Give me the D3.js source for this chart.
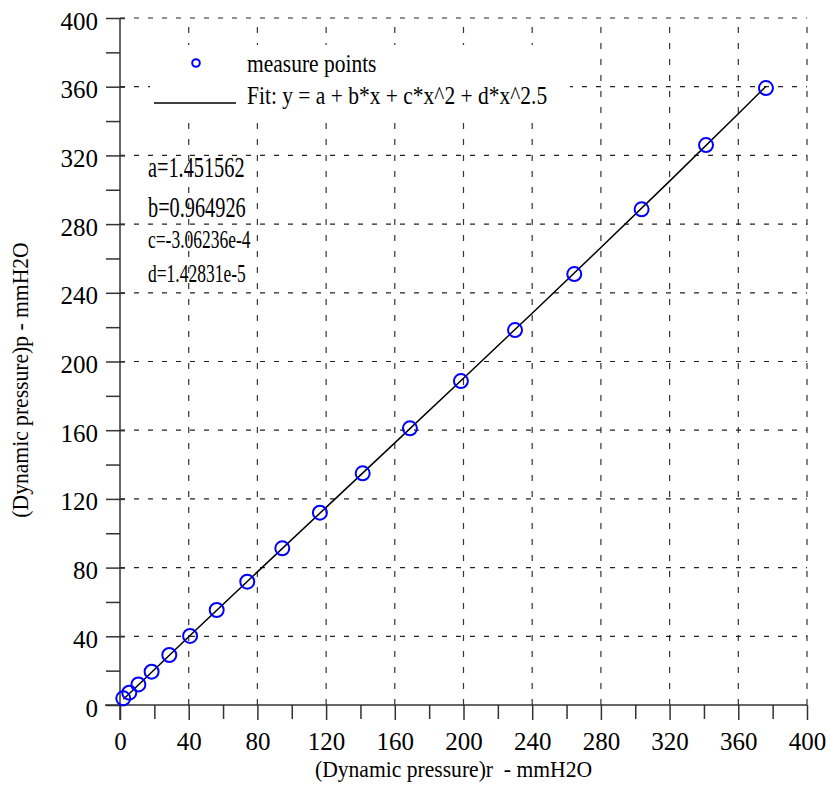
<!DOCTYPE html>
<html>
<head>
<meta charset="utf-8">
<script src="https://cdn.jsdelivr.net/npm/d3@7"></script>
<style>
  body { margin: 0; background: #fff; }
  svg text { font-family: "Liberation Serif", "DejaVu Serif", serif; fill: #000; }
</style>
</head>
<body>
<div id="chart"></div>
<script>
var rValues = [1.9, 5.4, 10.7, 18.4, 28.7, 40.8, 56.3, 74.1, 94.5, 116.4, 141.3, 168.8, 198.5, 230.0, 264.5, 303.7, 341.2, 376.1];
var pValues = [3.9, 7.2, 12.0, 19.4, 29.1, 40.2, 55.3, 71.8, 91.2, 112.0, 134.9, 161.1, 188.6, 218.3, 250.9, 288.6, 326.0, 359.2];

// fit curve samples
var fitX = [2, 40, 80, 120, 160, 200, 240, 280, 320, 360, 376];
var fitY = [3.38, 39.70, 77.50, 115.09, 152.63, 190.27, 228.14, 266.36, 305.03, 344.26, 360.13];

var coefLabels = ["a=1.451562", "b=0.964926", "c=-3.06236e-4", "d=1.42831e-5"];
var legendLabels = ["measure points", "Fit: y = a + b*x + c*x^2 + d*x^2.5"];
var xTicks = [0, 40, 80, 120, 160, 200, 240, 280, 320, 360, 400];
var yTicks = [0, 40, 80, 120, 160, 200, 240, 280, 320, 360, 400];
var minorTicks = [20, 60, 100, 140, 180, 220, 260, 300, 340, 380];

var serif = "'Liberation Serif', 'DejaVu Serif', serif";
var width = 830, height = 785;
var plotL = 120, plotR = 807, plotT = 18, plotB = 705;

var svg = d3.select("#chart").append("svg")
    .attr("width", width)
    .attr("height", height);

var x = d3.scaleLinear().domain([0, 400]).range([plotL, plotR]);
var y = d3.scaleLinear().domain([0, 400]).range([plotB, plotT]);

// dashed grid
svg.append("g")
    .attr("class", "vgrid")
    .selectAll("line")
    .data(xTicks.slice(1))
  .enter().append("line")
    .attr("x1", d => x(d)).attr("x2", d => x(d))
    .attr("y1", plotB).attr("y2", plotT)
    .style("stroke", "#333")
    .style("stroke-width", 1.2)
    .style("stroke-dasharray", "6,10");

svg.append("g")
    .attr("class", "hgrid")
    .selectAll("line")
    .data(yTicks.slice(1))
  .enter().append("line")
    .attr("x1", plotL).attr("x2", plotR)
    .attr("y1", d => y(d)).attr("y2", d => y(d))
    .style("stroke", "#222")
    .style("stroke-width", 1.2)
    .style("stroke-dasharray", "5,9");

// axes
var xAxis = svg.append("g")
    .attr("transform", "translate(0," + plotB + ")")
    .call(d3.axisBottom(x).tickValues(xTicks).tickSize(15).tickFormat(d3.format("d")));
var xMinor = svg.append("g")
    .attr("transform", "translate(0," + plotB + ")")
    .call(d3.axisBottom(x).tickValues(minorTicks).tickSize(14).tickFormat(""));
var yAxis = svg.append("g")
    .attr("transform", "translate(" + plotL + ",0)")
    .call(d3.axisLeft(y).tickValues(yTicks).tickSize(14).tickFormat(d3.format("d")));
var yMinor = svg.append("g")
    .attr("transform", "translate(" + plotL + ",0)")
    .call(d3.axisLeft(y).tickValues(minorTicks).tickSize(14).tickFormat(""));

[xAxis, xMinor, yAxis, yMinor].forEach(function(g) {
  g.attr("font-family", null);
  g.select(".domain").remove();
  g.selectAll("line").style("stroke", "#333").style("stroke-width", 1.5);
});
// major y ticks poke a little into the plot
yAxis.selectAll("line").attr("x2", 5).attr("x1", -14);

xAxis.selectAll("text")
    .attr("y", 0).attr("dy", null)
    .attr("transform", "translate(0,45)")
    .style("font-family", serif)
    .style("font-size", "25px");
yAxis.selectAll("text")
    .attr("x", -22).attr("dy", null)
    .attr("y", 0)
    .attr("transform", "translate(0,11)")
    .style("font-family", serif)
    .style("font-size", "25px");

// axis lines (run past the origin a little, like the original)
svg.append("line")
    .attr("x1", plotL - 15).attr("x2", plotR)
    .attr("y1", plotB).attr("y2", plotB)
    .style("stroke", "#333").style("stroke-width", 1.5);
svg.append("line")
    .attr("x1", plotL).attr("x2", plotL)
    .attr("y1", plotT).attr("y2", plotB + 15)
    .style("stroke", "#333").style("stroke-width", 1.5);

// squeezed text helper
function label(px, py, txt, size, sx, anchor, rot) {
  var t = svg.append("text")
      .attr("transform", "translate(" + px + "," + py + ")" + (rot ? " rotate(" + rot + ")" : "") + " scale(" + sx + ",1)")
      .style("font-family", serif)
      .style("font-size", size + "px")
      .style("text-anchor", anchor || "start")
      .text(txt);
  return t;
}

// axis titles
label((plotL + plotR) / 2 - 10, 777, "(Dynamic pressure)r\u00a0 - mmH2O", 24, 0.9, "middle");
label(28, 380, "(Dynamic pressure)p - mmH2O", 24, 0.9, "middle", -90);

// legend (white box hides the grid behind it)
svg.append("rect")
    .attr("x", 150).attr("y", 45).attr("width", 420).attr("height", 70)
    .style("fill", "#fff");
svg.append("circle")
    .attr("cx", 196).attr("cy", 63).attr("r", 3.8)
    .style("fill", "none").style("stroke", "#0000ff").style("stroke-width", 2);
svg.append("line")
    .attr("x1", 154).attr("x2", 236).attr("y1", 103).attr("y2", 103)
    .style("stroke", "#000").style("stroke-width", 1.5);
label(247, 72, legendLabels[0], 25, 0.86);
label(247, 104, legendLabels[1], 25, 0.86);

// coefficients
var coefY = [177, 217, 248, 282];
var coefSize = [29, 29, 25, 25];
coefLabels.forEach(function(c, i) {
  label(148, coefY[i], c, coefSize[i], 0.7);
});

// fit line
var line = d3.line()
    .x((d, i) => x(fitX[i]))
    .y((d, i) => y(fitY[i]));
svg.append("path")
    .datum(fitX)
    .attr("d", line)
    .style("fill", "none")
    .style("stroke", "#000")
    .style("stroke-width", 1.5);

// measure points
svg.append("g")
    .selectAll("circle")
    .data(rValues)
  .enter().append("circle")
    .attr("cx", d => x(d))
    .attr("cy", (d, i) => y(pValues[i]))
    .attr("r", 7)
    .style("fill", "none")
    .style("stroke", "#0000ff")
    .style("stroke-width", 2);
</script>
</body>
</html>
